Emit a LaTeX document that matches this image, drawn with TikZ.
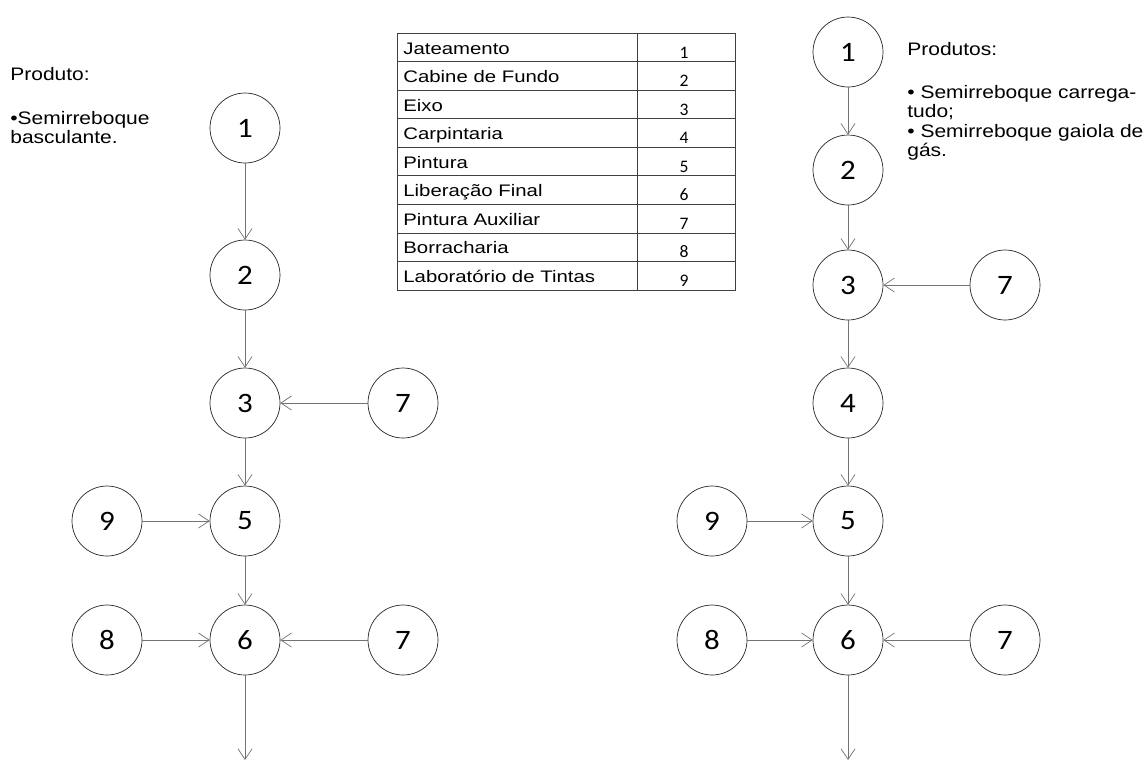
\documentclass[tikz,border=0pt]{standalone}
\usepackage{fontspec}
\setmainfont{Liberation Sans}
\newfontfamily\digitfont[FakeStretch=1.1]{Carlito}
\newfontfamily\smalldigitfont{Carlito}
\newfontfamily\labelfont[FakeStretch=1.16]{Liberation Sans}
\newfontfamily\cellfont[FakeStretch=1.22]{Liberation Sans}
\usepackage{tikz}
\usetikzlibrary{arrows.meta,positioning}
\tikzset{
    %Define standard arrow tip
    >={Straight Barb[open,length=6pt,width=8pt]},
    %Define style for stations
    estacao/.style={
           circle,
           draw=black!85, thin,
           minimum size=1.4cm,
           inner sep=0pt,
           font=\digitfont\fontsize{16}{18}\selectfont},
    % Define arrow style
    fluxo/.style={
           ->,
           draw=black!55,
           thin},
    % Define text styles
    rotulo/.style={
           anchor=base west,
           inner sep=0pt,
           font=\labelfont\fontsize{10.3}{12}\selectfont},
    celula/.style={
           anchor=base west,
           inner sep=0pt,
           font=\cellfont\fontsize{9.5}{10}\selectfont},
    numero/.style={
           anchor=base,
           inner sep=0pt,
           font=\smalldigitfont\fontsize{10}{11}\selectfont}
}
\begin{document}
\begin{tikzpicture}[x=0.02cm,y=-0.02cm]
      \useasboundingbox (0,0) rectangle (1145,762);
      % left flow
      \node[estacao] (a1) at (245,128) {1};
      \node[estacao] (a2) at (245,275) {2};
      \node[estacao] (a3) at (245,403) {3};
      \node[estacao] (a7) at (403,403) {7};
      \node[estacao] (a5) at (245,521) {5};
      \node[estacao] (a9) at (107,521) {9};
      \node[estacao] (a6) at (245,640) {6};
      \node[estacao] (a8) at (107,640) {8};
      \node[estacao] (a7b) at (403,640) {7};
      \coordinate (afim) at (245,760);
      \draw[fluxo] (a1) -- (a2);
      \draw[fluxo] (a2) -- (a3);
      \draw[fluxo] (a7) -- (a3);
      \draw[fluxo] (a3) -- (a5);
      \draw[fluxo] (a9) -- (a5);
      \draw[fluxo] (a5) -- (a6);
      \draw[fluxo] (a8) -- (a6);
      \draw[fluxo] (a7b) -- (a6);
      \draw[fluxo] (a6) -- (afim);

      % right flow
      \node[estacao] (b1) at (848,52) {1};
      \node[estacao] (b2) at (848,170) {2};
      \node[estacao] (b3) at (848,285) {3};
      \node[estacao] (b7) at (1005,285) {7};
      \node[estacao] (b4) at (848,403) {4};
      \node[estacao] (b5) at (848,521) {5};
      \node[estacao] (b9) at (712,521) {9};
      \node[estacao] (b6) at (848,640) {6};
      \node[estacao] (b8) at (712,640) {8};
      \node[estacao] (b7b) at (1005,640) {7};
      \coordinate (bfim) at (848,760);
      \draw[fluxo] (b1) -- (b2);
      \draw[fluxo] (b2) -- (b3);
      \draw[fluxo] (b7) -- (b3);
      \draw[fluxo] (b3) -- (b4);
      \draw[fluxo] (b4) -- (b5);
      \draw[fluxo] (b9) -- (b5);
      \draw[fluxo] (b5) -- (b6);
      \draw[fluxo] (b8) -- (b6);
      \draw[fluxo] (b7b) -- (b6);
      \draw[fluxo] (b6) -- (bfim);

      % product texts
      \node[rotulo] (prodA) at (10,80) {Produto:};
      \node[rotulo] (prodA1) at (10,124) {\textbullet Semirreboque};
      \node[rotulo] (prodA2) at (10,143) {basculante.};
      \node[rotulo] (prodB) at (907,55) {Produtos:};
      \node[rotulo] (prodB1) at (907,98) {\textbullet{} Semirreboque carrega-};
      \node[rotulo] (prodB2) at (907,117.5) {tudo;};
      \node[rotulo] (prodB3) at (907,137) {\textbullet{} Semirreboque gaiola de};
      \node[rotulo] (prodB4) at (907,156.5) {gás.};

      % legend table
      \draw[black!75] (397,33) rectangle (735,290);
      \draw[black!75] (637,33) -- (637,290);
      \foreach \i in {1,...,8}
        \draw[black!75] (397,33+28.56*\i) -- (735,33+28.56*\i);
      \foreach \t [count=\i] in {Jateamento,Cabine de Fundo,Eixo,Carpintaria,Pintura,Liberação Final,Pintura Auxiliar,Borracharia,Laboratório de Tintas}
      {
        \node[celula] (nome\i) at (403,33+28.56*\i-7.5) {\t};
        \node[numero] (num\i) at (684,33+28.56*\i-3.5) {\i};
      }
\end{tikzpicture}
\end{document}
